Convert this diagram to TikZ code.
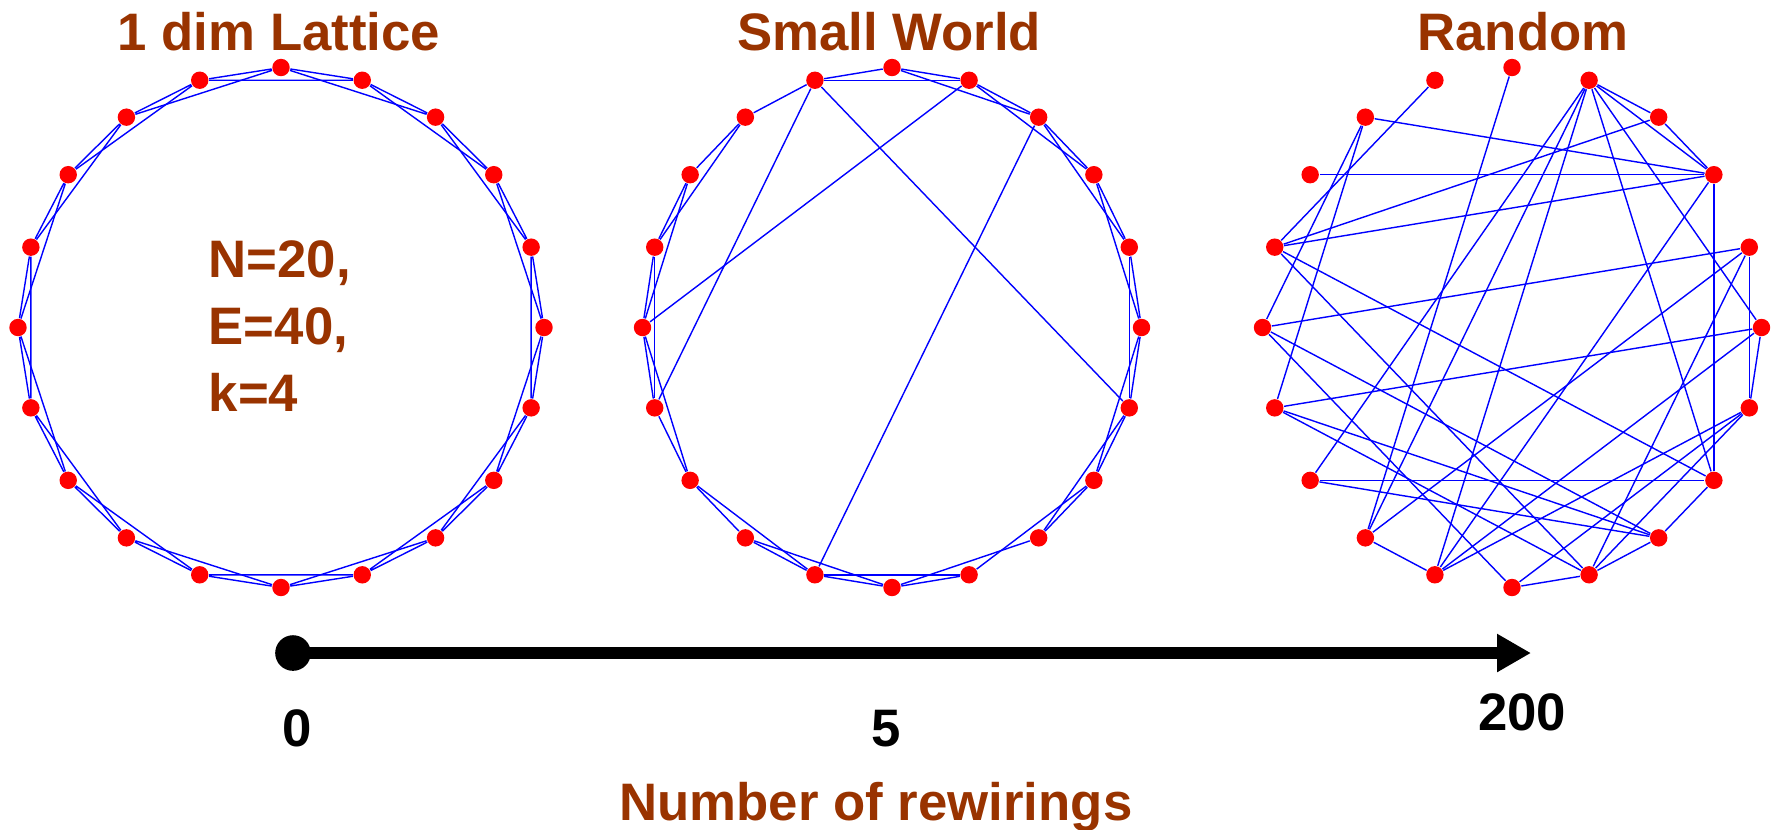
\documentclass[tikz,border=0pt]{standalone}
\usepackage{fontspec}
\setmainfont{Liberation Sans}
\usetikzlibrary{arrows.meta}
\definecolor{titlebrown}{RGB}{153,51,0}
\definecolor{edgeblue}{RGB}{0,0,255}
\definecolor{dotred}{RGB}{255,0,0}

\begin{document}
\begin{tikzpicture}[x=0.01cm, y=-0.01cm,
    every node/.style={font=\fontsize{15pt}{18pt}\selectfont\bfseries},
    dot/.style={circle, fill=dotred, inner sep=0pt, minimum size=0.174cm},
    edge/.style={edgeblue, line width=0.4pt},
    heading/.style={titlebrown, anchor=base, inner sep=0pt}]
  \useasboundingbox (0,0) rectangle (1777,829);
  % Vertices of the three rings
  \foreach \g/\cx/\rx in {L/281/263, S/892/249.5, R/1512/249.5}{
    \foreach \j in {0,...,19}
      \node[dot] (\g\j) at ({\cx+\rx*cos(18*\j)},{327.5-260*sin(18*\j)}) {};
  }
  % Lattice: nearest and next-nearest neighbours
  \foreach \j in {0,...,19}{
    \pgfmathtruncatemacro{\na}{mod(\j+1,20)}
    \pgfmathtruncatemacro{\nb}{mod(\j+2,20)}
    \draw[edge] (L\j) -- (L\na) (L\j) -- (L\nb);
  }
  % Small world: lattice with a few rewired links
  \foreach \p/\q in {0/1, 1/2, 2/3, 3/4, 4/5, 5/6, 6/7, 7/8, 8/9, 9/10,
      10/11, 11/12, 12/13, 13/14, 14/15, 15/16, 17/18, 18/19, 19/0,
      0/2, 1/3, 2/4, 3/5, 4/6, 7/9, 8/10, 9/11, 10/12, 12/14,
      13/15, 14/16, 15/17, 16/18, 17/19, 18/0, 19/1,
      6/11, 6/19, 4/10, 3/14}
    \draw[edge] (S\p) -- (S\q);
  % Random
  \foreach \p/\q in {6/9, 5/13, 4/3, 4/2, 4/12, 4/13, 4/14, 4/18, 4/0, 3/2,
      3/9, 2/7, 2/8, 2/9, 2/14, 2/18, 7/10, 7/11, 1/10, 1/13,
      1/16, 1/19, 0/11, 0/14, 0/19, 13/14, 14/19, 15/10, 15/16, 15/19,
      9/18, 9/16, 10/17, 11/17, 11/16, 12/18, 12/17, 19/16, 18/17, 16/17}
    \draw[edge] (R\p) -- (R\q);
  % Titles
  \node[heading] (tlat) at (279,50) {1 dim Lattice};
  \node[heading] (tsw) at (889,50) {Small World};
  \node[heading] (trnd) at (1523,50) {Random};
  \node[heading, anchor=base west] (nval) at (208,277) {N=20,};
  \node[heading, anchor=base west] (eval) at (208,344) {E=40,};
  \node[heading, anchor=base west] (kval) at (208,411) {k=4};
  % Axis
  \node[circle, fill=black, inner sep=0pt, minimum size=0.356cm] (origin) at (293,653) {};
  \coordinate (tip) at (1531,653);
  \draw[line width=0.126cm, -{Triangle[length=0.34cm, width=0.36cm]}] (origin.center) -- (tip);
  \node[anchor=base] (lzero) at (297,746) {0};
  \node[anchor=base] (lfive) at (886,746) {5};
  \node[anchor=base] (lmax) at (1522,730) {200};
  \node[heading] (xlabel) at (876,820) {Number of rewirings};
\end{tikzpicture}
\end{document}
